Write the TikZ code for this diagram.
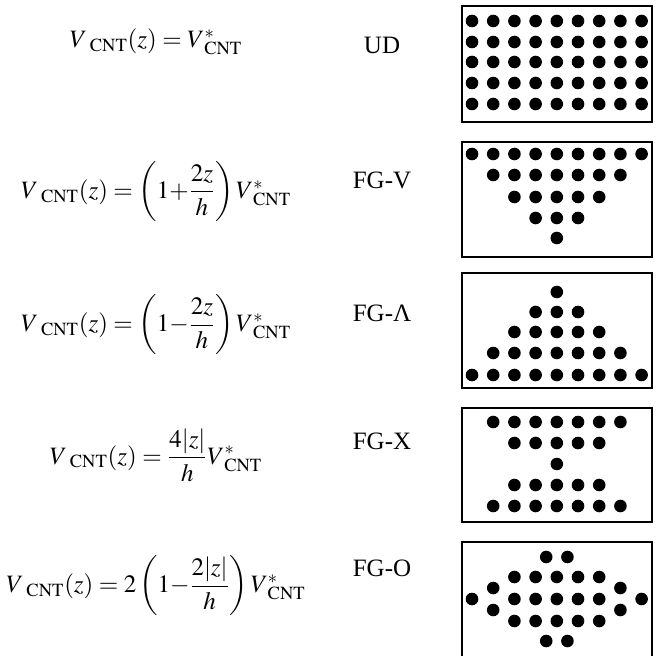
\documentclass[tikz,border=0pt]{standalone}
\usepackage{amsmath}
\usepackage{mathptmx}
\usepackage{fontspec}
\setmainfont{Liberation Serif}

\tikzset{
  eqnode/.style={anchor=center, inner sep=0pt, font=\fontsize{15}{18}\selectfont},
  typenode/.style={anchor=center, inner sep=0pt, font=\fontsize{15}{18}\selectfont},
  panel/.style={draw=black, line width=0.9pt},
  cntdot/.style={fill=black}
}
\newcommand{\vcnt}{V_{\mkern7mu\mathrm{CNT}}}
\newcommand{\vstar}{V^{*}_{\mkern4mu\mathrm{CNT}}}
% one row of CNT dots: #1 = y, #2 = list of columns
\newcommand{\cntdots}[2]{%
  \foreach \c in {#2} \fill[cntdot] ({472+(\c-1)*21.2},#1) circle[radius=6.3];%
}

\begin{document}
\begin{tikzpicture}[x=0.6pt, y=-0.6pt]
  \useasboundingbox (0,0) rectangle (656,656);

  % UD
  \node[eqnode] (eqUD) at (156,42) {$\vcnt(z) = \vstar$};
  \node[typenode] (typeUD) at (382,45) {UD};
  \draw[panel] (462,6) rectangle (652,122);
  \foreach \y in {21,42,62,83,104} {\cntdots{\y}{1,...,9}}

  % FG-V
  \node[eqnode] (eqV) at (156,192) {$\vcnt(z) = \left(1{+}\dfrac{2z}{h}\right) \vstar$};
  \node[typenode] (typeV) at (382,180) {FG-V};
  \draw[panel] (462,142) rectangle (652,257);
  \cntdots{154}{1,...,9}
  \cntdots{175}{2,...,8}
  \cntdots{197}{3,...,7}
  \cntdots{218}{4,...,6}
  \cntdots{238}{5}

  % FG-Lambda
  \node[eqnode] (eqL) at (156,325) {$\vcnt(z) = \left(1{-}\dfrac{2z}{h}\right) \vstar$};
  \node[typenode] (typeL) at (382,313) {FG-Λ};
  \draw[panel] (462,273) rectangle (652,388);
  \cntdots{292}{5}
  \cntdots{312}{4,...,6}
  \cntdots{332}{3,...,7}
  \cntdots{353}{2,...,8}
  \cntdots{375}{1,...,9}

  % FG-X
  \node[eqnode] (eqX) at (156,455) {$\vcnt(z) = \dfrac{4|z|}{h} \vstar$};
  \node[typenode] (typeX) at (382,441) {FG-X};
  \draw[panel] (462,408) rectangle (652,522);
  \cntdots{422}{2,...,8}
  \cntdots{443}{3,...,7}
  \cntdots{464}{5}
  \cntdots{485}{3,...,7}
  \cntdots{506}{2,...,8}

  % FG-O
  \node[eqnode] (eqO) at (156,586) {$\vcnt(z) = 2\left(1{-}\dfrac{2|z|}{h}\right) \vstar$};
  \node[typenode] (typeO) at (382,568) {FG-O};
  \draw[panel] (462,542) rectangle (652,660);
  \cntdots{557}{4.5,5.5}
  \cntdots{577}{3,...,7}
  \cntdots{588}{2,8}
  \cntdots{599}{1,3,4,5,6,7,9}
  \cntdots{610}{2,8}
  \cntdots{621}{3,...,7}
  \cntdots{641}{4.5,5.5}
\end{tikzpicture}
\end{document}
